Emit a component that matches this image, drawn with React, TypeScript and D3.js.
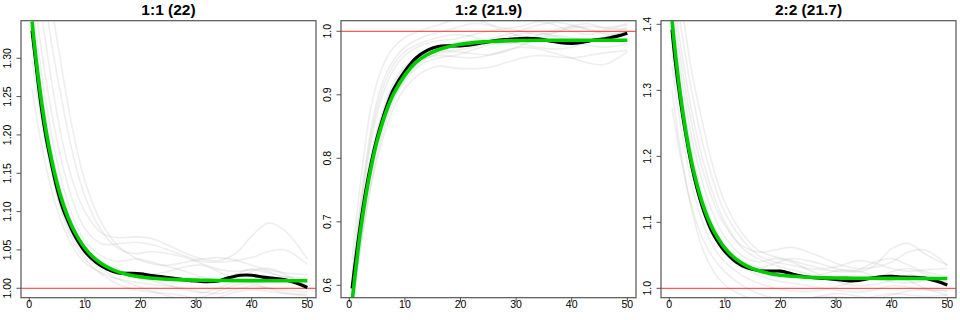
import React from "react";
import * as d3 from "d3";

const titles = ["1:1 (22)", "1:2 (21.9)", "2:2 (21.7)"];
const xTicks = [0, 10, 20, 30, 40, 50];
const yTicks1 = [1.0, 1.05, 1.1, 1.15, 1.2, 1.25, 1.3];
const yTicks2 = [0.6, 0.7, 0.8, 0.9, 1.0];
const yTicks3 = [1.0, 1.1, 1.2, 1.3, 1.4];
const refValue = [1.0, 1.0, 1.0];

// x positions for mean and fitted curves
const xsMain = [0.5, 1, 2, 3, 4, 5, 6, 7, 8, 10, 12, 14, 16, 18, 20, 22, 24, 26, 28, 30, 32, 34, 36, 38, 40, 42, 44, 46, 48, 50];
// x positions for individual gray curves
const xsGray = [0.5, 2, 4, 6, 8, 10, 13, 16, 19, 22, 25, 28, 31, 34, 37, 40, 43, 46, 50];

// Panel 1 (1:1)
const mean1 = [1.336, 1.305, 1.245, 1.198, 1.162, 1.130, 1.105, 1.087, 1.071, 1.048, 1.034, 1.025, 1.020, 1.0195, 1.0187, 1.0165, 1.015, 1.013, 1.011, 1.0095, 1.0085, 1.0095, 1.014, 1.017, 1.017, 1.0145, 1.013, 1.011, 1.007, 1.001];
const fit1 = [1.348, 1.313, 1.254, 1.206, 1.168, 1.137, 1.112, 1.092, 1.076, 1.0525, 1.0374, 1.0277, 1.0214, 1.0173, 1.0147, 1.0131, 1.0121, 1.0114, 1.0109, 1.0106, 1.0104, 1.0102, 1.0101, 1.01, 1.01, 1.0099, 1.0099, 1.0099, 1.0099, 1.0099];
const gray1a = [1.298, 1.225, 1.150, 1.095, 1.060, 1.038, 1.018, 1.005, 0.998, 0.995, 0.993, 0.990, 0.985, 0.988, 0.995, 0.998, 0.996, 0.993, 0.990];
const gray1b = [1.260, 1.195, 1.128, 1.082, 1.052, 1.033, 1.020, 1.012, 1.008, 1.005, 1.003, 1.000, 0.995, 0.993, 0.998, 1.003, 1.000, 0.997, 0.995];
const gray1c = [1.45, 1.37, 1.27, 1.19, 1.135, 1.10, 1.072, 1.066, 1.067, 1.065, 1.056, 1.046, 1.038, 1.036, 1.045, 1.068, 1.085, 1.075, 1.038];
const gray1d = [1.40, 1.32, 1.23, 1.16, 1.11, 1.078, 1.058, 1.058, 1.060, 1.057, 1.050, 1.042, 1.035, 1.034, 1.036, 1.040, 1.048, 1.050, 1.031];
const gray1e = [1.50, 1.42, 1.32, 1.24, 1.17, 1.12, 1.075, 1.052, 1.045, 1.048, 1.045, 1.040, 1.032, 1.025, 1.022, 1.024, 1.020, 1.015, 1.008];
const gray1f = [1.38, 1.29, 1.20, 1.135, 1.09, 1.062, 1.042, 1.035, 1.038, 1.034, 1.028, 1.022, 1.015, 1.010, 1.018, 1.025, 1.022, 1.012, 1.005];
const gray1g = [1.34, 1.255, 1.17, 1.11, 1.07, 1.048, 1.030, 1.022, 1.020, 1.018, 1.022, 1.028, 1.030, 1.022, 1.012, 1.008, 1.010, 1.015, 1.012];
const gray1h = [1.36, 1.27, 1.18, 1.12, 1.078, 1.052, 1.035, 1.025, 1.015, 1.010, 1.004, 0.998, 0.994, 1.000, 1.010, 1.022, 1.026, 1.018, 1.002];
const gray1i = [1.33, 1.24, 1.155, 1.10, 1.065, 1.042, 1.025, 1.012, 1.004, 0.996, 0.990, 0.985, 0.988, 0.996, 1.004, 1.006, 1.000, 0.994, 0.992];
const gray1j = [1.55, 1.47, 1.37, 1.28, 1.20, 1.14, 1.085, 1.055, 1.040, 1.032, 1.030, 1.034, 1.038, 1.040, 1.037, 1.030, 1.024, 1.020, 1.018];

// Panel 2 (1:2)
const mean2 = [0.595, 0.63, 0.695, 0.750, 0.795, 0.832, 0.862, 0.888, 0.909, 0.937, 0.958, 0.970, 0.976, 0.977, 0.977, 0.979, 0.982, 0.985, 0.987, 0.988, 0.989, 0.988, 0.985, 0.982, 0.981, 0.983, 0.986, 0.988, 0.992, 0.997];
const fit2 = [0.575, 0.613, 0.685, 0.742, 0.789, 0.827, 0.857, 0.882, 0.902, 0.931, 0.951, 0.963, 0.971, 0.976, 0.9795, 0.9818, 0.9833, 0.9842, 0.9849, 0.9853, 0.9856, 0.9858, 0.9859, 0.986, 0.986, 0.986, 0.986, 0.986, 0.986, 0.986];
const gray2a = [0.64, 0.76, 0.885, 0.945, 0.975, 0.99, 1.002, 1.010, 1.018, 1.020, 1.012, 1.005, 1.008, 1.015, 1.010, 1.000, 0.995, 1.002, 1.010];
const gray2b = [0.62, 0.73, 0.85, 0.92, 0.955, 0.975, 0.99, 0.998, 1.005, 1.012, 1.010, 1.000, 0.992, 0.990, 0.998, 1.008, 1.012, 1.005, 1.003];
const gray2c = [0.57, 0.66, 0.76, 0.83, 0.88, 0.91, 0.935, 0.945, 0.942, 0.941, 0.943, 0.950, 0.958, 0.962, 0.960, 0.958, 0.962, 0.966, 0.970];
const gray2d = [0.58, 0.68, 0.79, 0.86, 0.905, 0.935, 0.955, 0.962, 0.960, 0.958, 0.962, 0.970, 0.975, 0.972, 0.965, 0.958, 0.950, 0.948, 0.968];
const gray2e = [0.60, 0.70, 0.81, 0.875, 0.92, 0.945, 0.962, 0.968, 0.970, 0.975, 0.982, 0.990, 0.996, 0.998, 0.992, 0.985, 0.978, 0.975, 0.980];
const gray2f = [0.56, 0.67, 0.78, 0.85, 0.895, 0.925, 0.952, 0.965, 0.968, 0.965, 0.963, 0.968, 0.978, 0.988, 0.993, 0.990, 0.985, 0.988, 0.995];
const gray2g = [0.59, 0.71, 0.83, 0.90, 0.94, 0.962, 0.978, 0.985, 0.988, 0.994, 1.000, 1.004, 1.000, 0.995, 0.998, 1.005, 1.008, 1.006, 1.012];
const gray2h = [0.55, 0.655, 0.765, 0.84, 0.89, 0.922, 0.948, 0.958, 0.962, 0.970, 0.978, 0.982, 0.980, 0.975, 0.972, 0.975, 0.984, 0.992, 1.000];
const gray2i = [0.61, 0.72, 0.84, 0.91, 0.948, 0.968, 0.982, 0.990, 0.995, 0.992, 0.985, 0.980, 0.985, 0.994, 1.002, 1.008, 1.004, 0.998, 1.006];
const gray2j = [0.57, 0.685, 0.80, 0.87, 0.915, 0.942, 0.962, 0.975, 0.982, 0.985, 0.988, 0.994, 1.002, 1.010, 1.014, 1.010, 1.002, 0.996, 0.998];

// Panel 3 (2:2)
const mean3 = [1.392, 1.350, 1.285, 1.232, 1.187, 1.151, 1.122, 1.099, 1.081, 1.056, 1.040, 1.031, 1.027, 1.026, 1.026, 1.022, 1.018, 1.016, 1.015, 1.0135, 1.0115, 1.012, 1.015, 1.0175, 1.018, 1.017, 1.0165, 1.0155, 1.011, 1.005];
const fit3 = [1.405, 1.364, 1.293, 1.237, 1.192, 1.157, 1.128, 1.105, 1.087, 1.061, 1.0443, 1.0337, 1.0269, 1.0226, 1.0199, 1.0182, 1.0171, 1.0164, 1.0159, 1.0156, 1.0154, 1.0153, 1.0152, 1.0151, 1.0151, 1.015, 1.015, 1.015, 1.015, 1.015];
const gray3a = [1.273, 1.20, 1.125, 1.075, 1.045, 1.025, 1.005, 0.992, 0.985, 0.982, 0.985, 0.990, 0.992, 0.988, 0.985, 0.990, 0.996, 0.998, 0.995];
const gray3b = [1.354, 1.27, 1.18, 1.12, 1.08, 1.055, 1.035, 1.030, 1.038, 1.045, 1.042, 1.035, 1.028, 1.025, 1.035, 1.060, 1.068, 1.052, 1.035];
const gray3c = [1.336, 1.25, 1.16, 1.10, 1.062, 1.040, 1.020, 1.008, 1.000, 0.996, 0.995, 0.998, 1.005, 1.012, 1.018, 1.020, 1.012, 1.000, 0.990];
const gray3d = [1.44, 1.35, 1.25, 1.18, 1.13, 1.095, 1.065, 1.055, 1.058, 1.062, 1.055, 1.045, 1.035, 1.030, 1.032, 1.040, 1.055, 1.058, 1.035];
const gray3e = [1.48, 1.40, 1.30, 1.22, 1.16, 1.115, 1.075, 1.050, 1.040, 1.035, 1.030, 1.028, 1.025, 1.028, 1.040, 1.045, 1.035, 1.025, 1.018];
const gray3f = [1.42, 1.33, 1.23, 1.16, 1.11, 1.078, 1.050, 1.040, 1.045, 1.040, 1.028, 1.018, 1.012, 1.010, 1.015, 1.025, 1.030, 1.022, 1.010];
const gray3g = [1.40, 1.31, 1.21, 1.14, 1.095, 1.065, 1.042, 1.032, 1.025, 1.020, 1.018, 1.022, 1.028, 1.026, 1.018, 1.010, 1.008, 1.012, 1.015];
const gray3h = [1.46, 1.37, 1.27, 1.195, 1.14, 1.10, 1.062, 1.045, 1.035, 1.028, 1.022, 1.015, 1.008, 1.004, 1.006, 1.012, 1.020, 1.018, 1.008];
const gray3i = [1.38, 1.29, 1.19, 1.125, 1.082, 1.055, 1.032, 1.020, 1.012, 1.008, 1.004, 1.000, 0.996, 0.994, 0.998, 1.004, 1.002, 0.998, 0.997];
const gray3j = [1.52, 1.44, 1.33, 1.25, 1.18, 1.13, 1.085, 1.058, 1.048, 1.042, 1.035, 1.030, 1.035, 1.042, 1.038, 1.030, 1.026, 1.028, 1.030];
const gray3k = [1.30, 1.21, 1.12, 1.06, 1.025, 1.005, 0.990, 0.982, 0.978, 0.980, 0.985, 0.988, 0.986, 0.984, 0.988, 0.992, 0.990, 0.988, 0.990];

const panels = [
  { title: titles[0], yDomain: [0.9877, 1.349], yTicks: yTicks1, fmt: ".2f", mean: mean1, fit: fit1, ref: refValue[0],
    grays: [gray1a, gray1b, gray1c, gray1d, gray1e, gray1f, gray1g, gray1h, gray1i, gray1j] },
  { title: titles[1], yDomain: [0.5805, 1.0167], yTicks: yTicks2, fmt: ".1f", mean: mean2, fit: fit2, ref: refValue[1],
    grays: [gray2a, gray2b, gray2c, gray2d, gray2e, gray2f, gray2g, gray2h, gray2i, gray2j] },
  { title: titles[2], yDomain: [0.9858, 1.4055], yTicks: yTicks3, fmt: ".1f", mean: mean3, fit: fit3, ref: refValue[2],
    grays: [gray3a, gray3b, gray3c, gray3d, gray3e, gray3f, gray3g, gray3h, gray3i, gray3j, gray3k] },
];

const PW = 295;
const TOP = 20.7;
const BOTTOM = 297.7;
const PH = BOTTOM - TOP;
const FONT = "'Liberation Sans', Arial, Helvetica, sans-serif";

function Panel({ p, idx }: { p: any; idx: number }) {
  const left = 21 + idx * 320;
  const x = d3.scaleLinear().domain([-1.49, 51.56]).range([0, PW]);
  const y = d3.scaleLinear().domain(p.yDomain).range([PH, 0]);
  const grayLine = d3.line<number>().x((_, i) => x(xsGray[i])).y((v) => y(v)).curve(d3.curveCatmullRom.alpha(0.5));
  const mainLine = d3.line<number>().x((_, i) => x(xsMain[i])).y((v) => y(v)).curve(d3.curveCatmullRom.alpha(0.5));
  const fmt = d3.format(p.fmt);
  const clipId = `clip${idx}`;
  return (
    <g transform={`translate(${left},${TOP})`}>
      <defs>
        <clipPath id={clipId}>
          <rect x={0} y={0} width={PW} height={PH} />
        </clipPath>
      </defs>
      <g clipPath={`url(#${clipId})`}>
        {p.grays.map((g: number[], i: number) => (
          <path key={i} d={grayLine(g) || ""} fill="none" stroke="rgb(170,170,170)" strokeOpacity={0.2} strokeWidth={1.6} />
        ))}
        <line x1={0} x2={PW} y1={y(p.ref)} y2={y(p.ref)} stroke="#ff3030" strokeWidth={1} />
        <path d={mainLine(p.mean) || ""} fill="none" stroke="#000" strokeWidth={3.2} />
        <path d={mainLine(p.fit) || ""} fill="none" stroke="#00cd00" strokeWidth={3.6} />
      </g>
      <rect x={0} y={0} width={PW} height={PH} fill="none" stroke="#555" strokeWidth={1.2} />
      {xTicks.map((t) => (
        <g key={t} transform={`translate(${x(t)},${PH})`}>
          <line y1={0} y2={4.5} stroke="#555" strokeWidth={1} />
          <text y={10} textAnchor="middle" fontFamily={FONT} fontSize={10.5} fill="#000">
            {t}
          </text>
        </g>
      ))}
      {p.yTicks.map((t: number) => (
        <g key={t} transform={`translate(0,${y(t)})`}>
          <line x1={-4.5} x2={0} stroke="#555" strokeWidth={1} />
          <text transform={`translate(-10.5,0) rotate(-90)`} textAnchor="middle" fontFamily={FONT} fontSize={10.5} fill="#000">
            {fmt(t)}
          </text>
        </g>
      ))}
      <text x={PW / 2} y={15 - TOP} textAnchor="middle" fontFamily={FONT} fontWeight="bold" fontSize={15.5} fill="#000">
        {p.title}
      </text>
    </g>
  );
}

export default function App() {
  return (
    <svg width={960} height={320} style={{ position: "absolute", left: 0, top: 0, background: "#fff" }}>
      <rect x={0} y={0} width={960} height={320} fill="#fff" />
      {panels.map((p, i) => (
        <Panel key={i} p={p} idx={i} />
      ))}
    </svg>
  );
}
